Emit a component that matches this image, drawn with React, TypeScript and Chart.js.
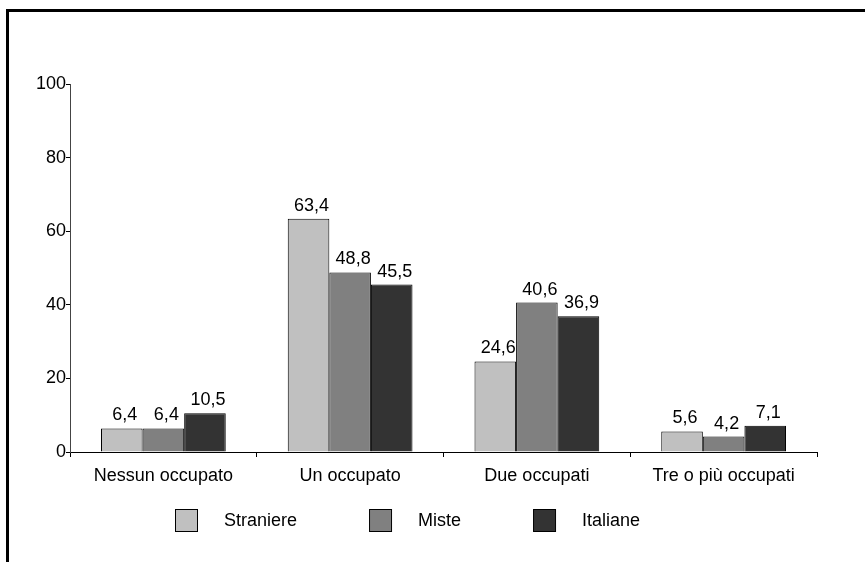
import React, { useEffect, useRef } from "react";
import { Chart, registerables } from "chart.js";

Chart.register(...registerables);

const categories = ["Nessun occupato", "Un occupato", "Due occupati", "Tre o più occupati"];
const seriesNames = ["Straniere", "Miste", "Italiane"];
const straniere = [6.4, 63.4, 24.6, 5.6];
const miste = [6.4, 48.8, 40.6, 4.2];
const italiane = [10.5, 45.5, 36.9, 7.1];
const seriesColors = ["#c0c0c0", "#808080", "#333333"];
const yTicks = [0, 20, 40, 60, 80, 100];

const FONT = "'Liberation Sans', Arial, sans-serif";

const dataLabelPlugin = {
  id: "dataLabels",
  afterDatasetsDraw(chart: any) {
    const ctx = chart.ctx;
    ctx.save();
    ctx.font = `18px ${FONT}`;
    ctx.fillStyle = "#000";
    ctx.textAlign = "center";
    ctx.textBaseline = "alphabetic";
    chart.data.datasets.forEach((ds: any, i: number) => {
      const meta = chart.getDatasetMeta(i);
      meta.data.forEach((el: any, j: number) => {
        const v = ds.data[j] as number;
        const txt = v.toFixed(1).replace(".", ",");
        ctx.fillText(txt, el.x + 3, el.y - 8);
      });
    });
    ctx.restore();
  },
};

const legendPlugin = {
  id: "customLegend",
  afterDraw(chart: any) {
    const ctx = chart.ctx;
    ctx.save();
    ctx.font = `18px ${FONT}`;
    ctx.textBaseline = "middle";
    ctx.textAlign = "left";
    let x = chart.chartArea.left + 105;
    const boxY = 509;
    const box = 22;
    chart.data.datasets.forEach((ds: any) => {
      ctx.fillStyle = ds.backgroundColor;
      ctx.fillRect(x + 0.5, boxY + 0.5, box, box);
      ctx.strokeStyle = "#000";
      ctx.lineWidth = 1;
      ctx.strokeRect(x + 0.5, boxY + 0.5, box, box);
      ctx.fillStyle = "#000";
      const tx = x + 49;
      ctx.fillText(ds.label, tx, boxY + box / 2 + 1);
      const w = ctx.measureText(ds.label).width;
      x = tx + w + 72;
    });
    ctx.restore();
  },
};

export default function App() {
  const ref = useRef<HTMLCanvasElement>(null);
  useEffect(() => {
    if (!ref.current) return;
    const values = [straniere, miste, italiane];
    const chart = new Chart(ref.current, {
      type: "bar",
      data: {
        labels: categories,
        datasets: seriesNames.map((name, i) => ({
          label: name,
          data: values[i],
          backgroundColor: seriesColors[i],
          borderColor: "#000",
          borderWidth: 1,
          borderSkipped: "bottom",
          barPercentage: 1.0,
          categoryPercentage: 0.668,
        })),
      },
      options: {
        responsive: false,
        animation: false,
        layout: { padding: { top: 84, right: 48, left: 0, bottom: 0 } },
        plugins: {
          legend: { display: false },
          tooltip: { enabled: false },
        },
        scales: {
          x: {
            grid: {
              display: true,
              drawOnChartArea: false,
              drawTicks: true,
              tickLength: 5,
              tickColor: "#000",
              offset: true,
            },
            border: { display: true, color: "#000", width: 1 },
            ticks: {
              color: "#000",
              font: { family: FONT, size: 18 },
              padding: 8,
              maxRotation: 0,
              autoSkip: false,
            },
            afterFit: (scale: any) => {
              scale.height = 110;
            },
          },
          y: {
            min: 0,
            max: 100,
            afterBuildTicks: (scale: any) => {
              scale.ticks = yTicks.map((v) => ({ value: v }));
            },
            grid: {
              display: true,
              drawOnChartArea: false,
              drawTicks: true,
              tickLength: 4,
              tickColor: "#000",
            },
            border: { display: true, color: "#444", width: 1 },
            ticks: {
              color: "#000",
              font: { family: FONT, size: 18 },
              padding: 0,
            },
            afterFit: (scale: any) => {
              scale.width = 70;
            },
          },
        },
      },
      plugins: [dataLabelPlugin, legendPlugin],
    });
    return () => chart.destroy();
  }, []);

  return (
    <div style={{ position: "fixed", left: 0, top: 0, width: 865, height: 562, background: "#fff", overflow: "hidden" }}>
      <div
        style={{
          position: "absolute",
          left: 6,
          top: 9,
          width: 1000,
          height: 1000,
          borderTop: "3px solid #000",
          borderLeft: "3px solid #000",
          boxSizing: "border-box",
        }}
      />
      <canvas ref={ref} width={865} height={562} style={{ position: "absolute", left: 0, top: 0, display: "block" }} />
    </div>
  );
}
